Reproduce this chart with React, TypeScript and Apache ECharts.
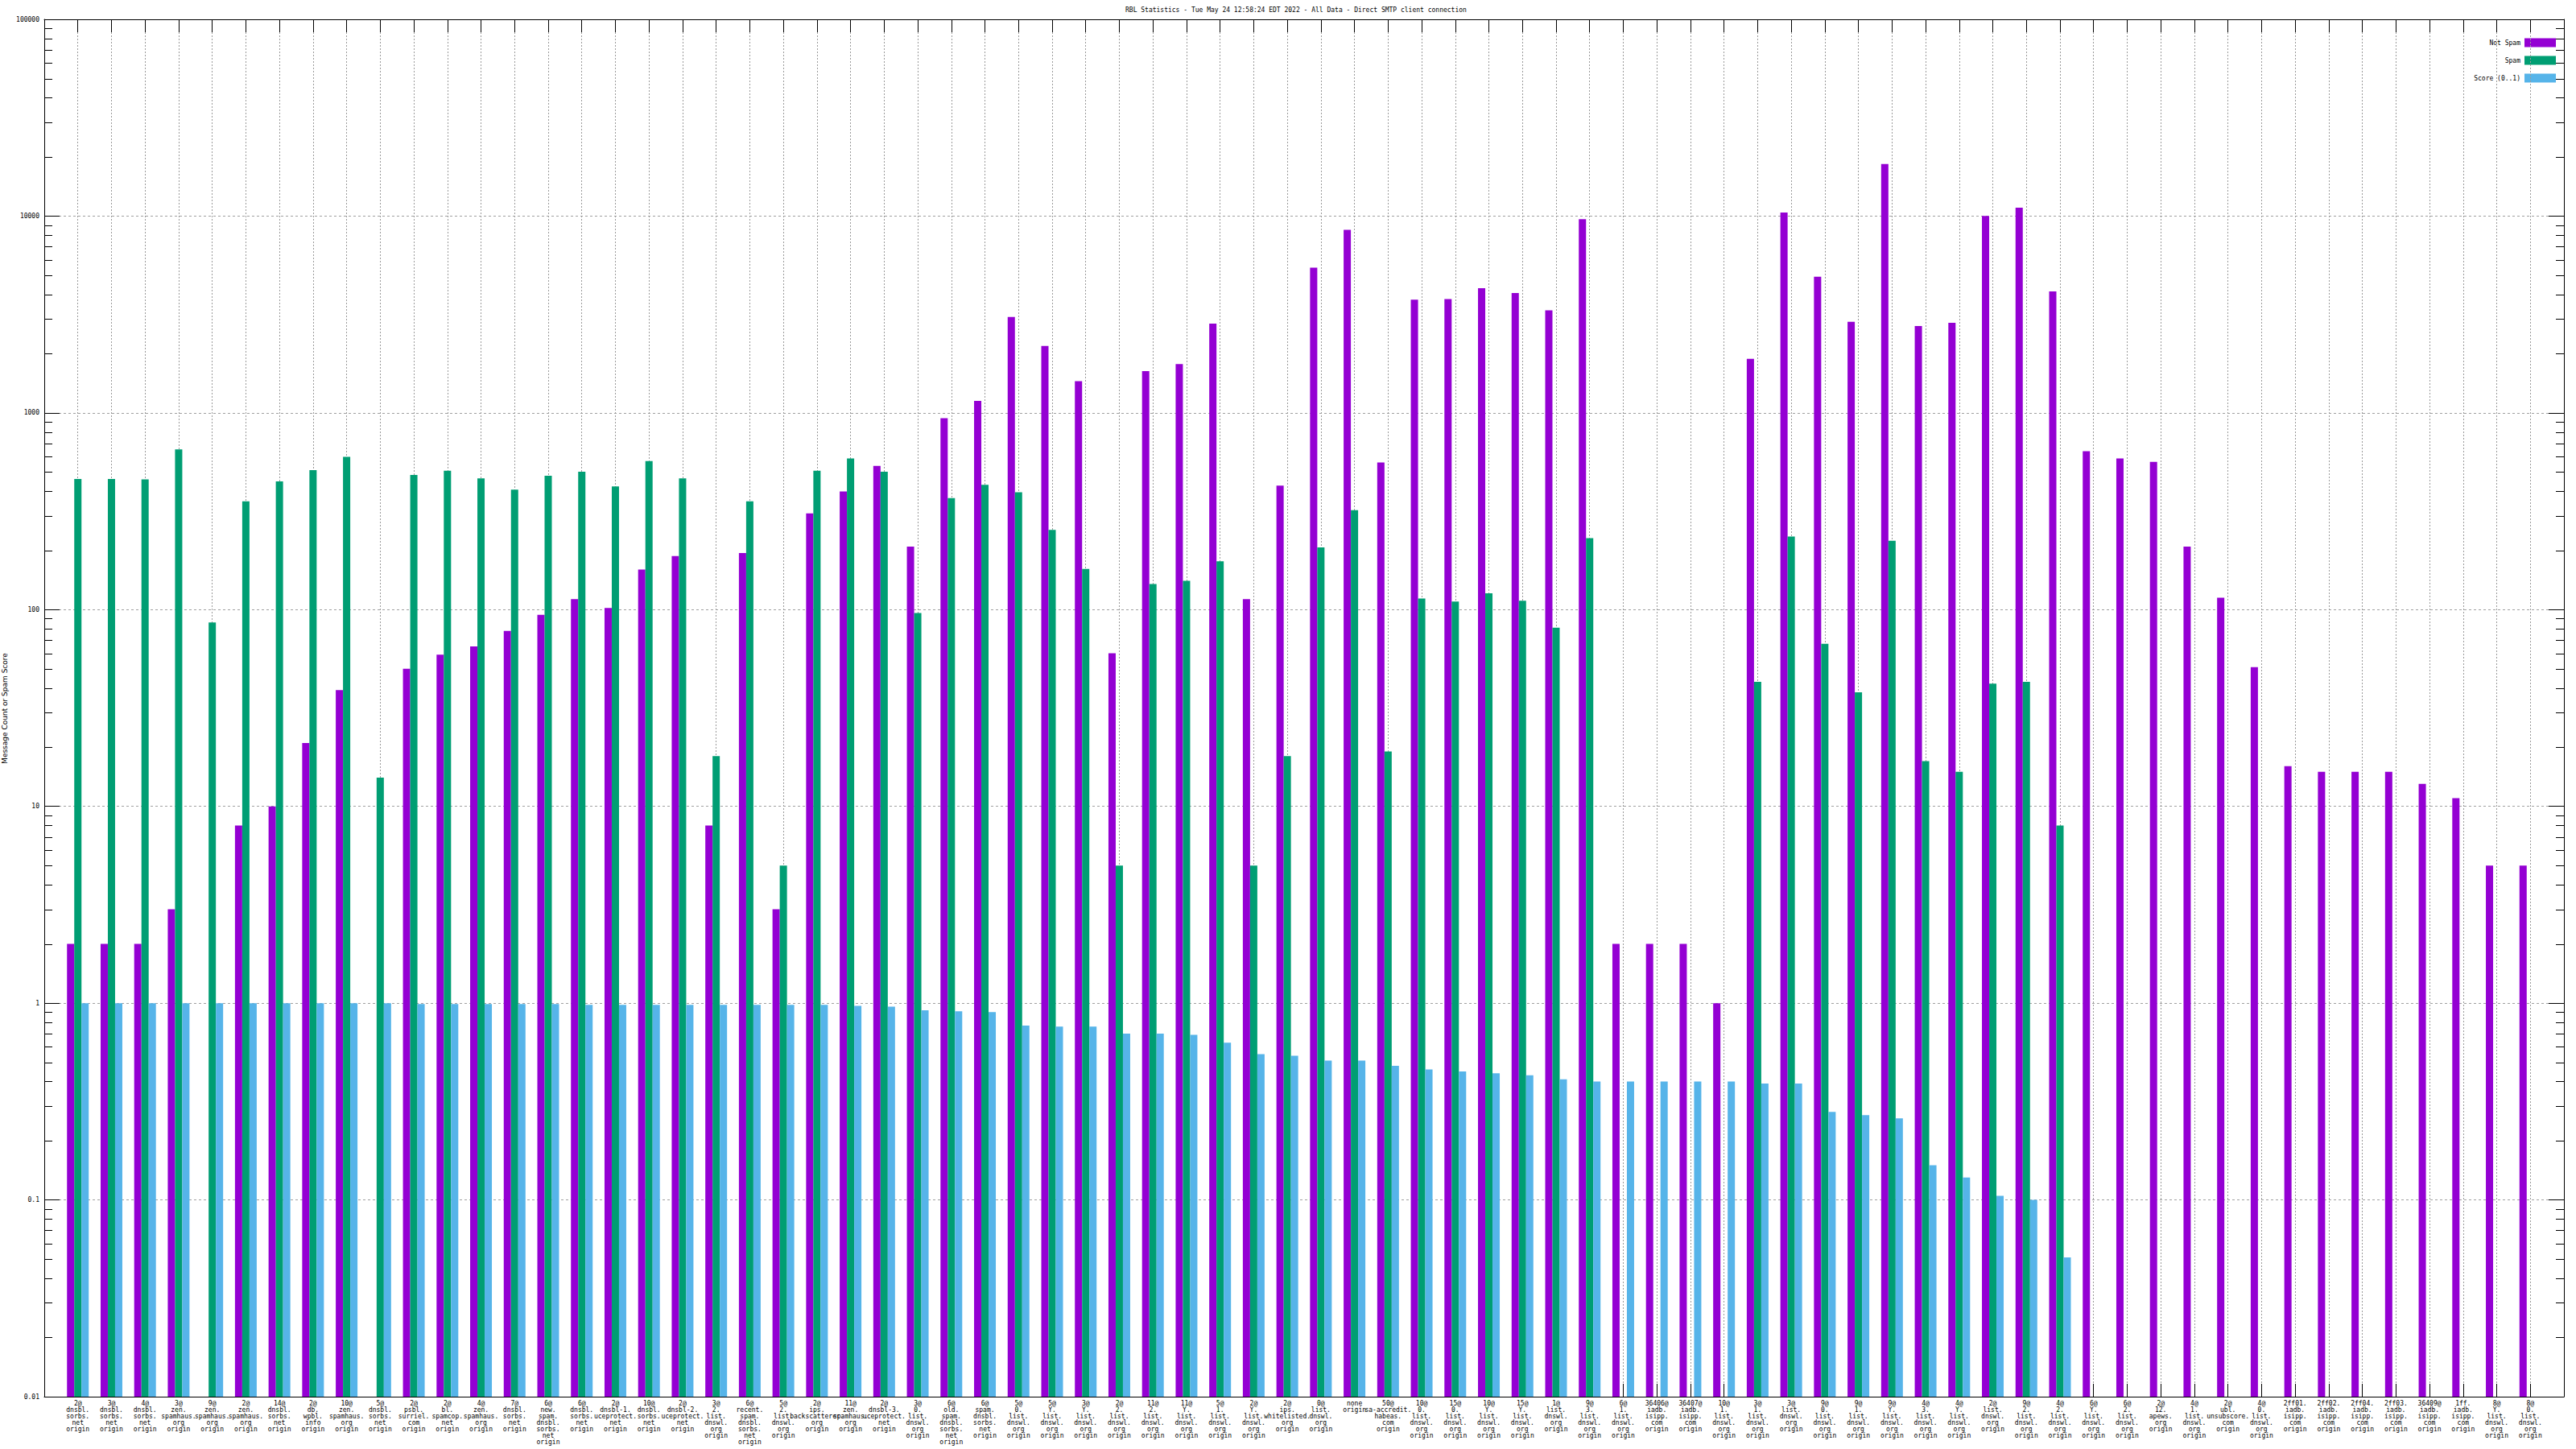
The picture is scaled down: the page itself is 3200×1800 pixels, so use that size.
import React, { useEffect, useRef } from 'react';
import * as echarts from 'echarts';

const MONO = '"DejaVu Sans Mono", "Liberation Mono", monospace';

const TITLE = 'RBL Statistics - Tue May 24 12:58:24 EDT 2022 - All Data - Direct SMTP client connection';
const Y_NAME = 'Message Count or Spam Score';
const SERIES_NAMES = ['Not Spam', 'Spam', 'Score (0..1)'];
const COLORS = ['#9400d3', '#009e73', '#56b4e9'];

const categories = [
  '2@\ndnsbl.\nsorbs.\nnet\norigin',
  '3@\ndnsbl.\nsorbs.\nnet\norigin',
  '4@\ndnsbl.\nsorbs.\nnet\norigin',
  '3@\nzen.\nspamhaus.\norg\norigin',
  '9@\nzen.\nspamhaus.\norg\norigin',
  '2@\nzen.\nspamhaus.\norg\norigin',
  '14@\ndnsbl.\nsorbs.\nnet\norigin',
  '2@\ndb.\nwpbl.\ninfo\norigin',
  '10@\nzen.\nspamhaus.\norg\norigin',
  '5@\ndnsbl.\nsorbs.\nnet\norigin',
  '2@\npsbl.\nsurriel.\ncom\norigin',
  '2@\nbl.\nspamcop.\nnet\norigin',
  '4@\nzen.\nspamhaus.\norg\norigin',
  '7@\ndnsbl.\nsorbs.\nnet\norigin',
  '6@\nnew.\nspam.\ndnsbl.\nsorbs.\nnet\norigin',
  '6@\ndnsbl.\nsorbs.\nnet\norigin',
  '2@\ndnsbl-1.\nuceprotect.\nnet\norigin',
  '10@\ndnsbl.\nsorbs.\nnet\norigin',
  '2@\ndnsbl-2.\nuceprotect.\nnet\norigin',
  '3@\n2.\nlist.\ndnswl.\norg\norigin',
  '6@\nrecent.\nspam.\ndnsbl.\nsorbs.\nnet\norigin',
  '5@\n2.\nlist.\ndnswl.\norg\norigin',
  '2@\nips.\nbackscatterer.\norg\norigin',
  '11@\nzen.\nspamhaus.\norg\norigin',
  '2@\ndnsbl-3.\nuceprotect.\nnet\norigin',
  '3@\n0.\nlist.\ndnswl.\norg\norigin',
  '6@\nold.\nspam.\ndnsbl.\nsorbs.\nnet\norigin',
  '6@\nspam.\ndnsbl.\nsorbs.\nnet\norigin',
  '5@\n0.\nlist.\ndnswl.\norg\norigin',
  '5@\nY.\nlist.\ndnswl.\norg\norigin',
  '3@\nY.\nlist.\ndnswl.\norg\norigin',
  '2@\n2.\nlist.\ndnswl.\norg\norigin',
  '11@\n2.\nlist.\ndnswl.\norg\norigin',
  '11@\nY.\nlist.\ndnswl.\norg\norigin',
  '5@\n1.\nlist.\ndnswl.\norg\norigin',
  '2@\nY.\nlist.\ndnswl.\norg\norigin',
  '2@\nips.\nwhitelisted.\norg\norigin',
  '0@\nlist.\ndnswl.\norg\norigin',
  'none\norigin',
  '50@\nsa-accredit.\nhabeas.\ncom\norigin',
  '10@\n0.\nlist.\ndnswl.\norg\norigin',
  '15@\n0.\nlist.\ndnswl.\norg\norigin',
  '10@\nY.\nlist.\ndnswl.\norg\norigin',
  '15@\nY.\nlist.\ndnswl.\norg\norigin',
  '1@\nlist.\ndnswl.\norg\norigin',
  '9@\n3.\nlist.\ndnswl.\norg\norigin',
  '6@\n1.\nlist.\ndnswl.\norg\norigin',
  '36406@\niadb.\nisipp.\ncom\norigin',
  '36407@\niadb.\nisipp.\ncom\norigin',
  '10@\n1.\nlist.\ndnswl.\norg\norigin',
  '3@\n1.\nlist.\ndnswl.\norg\norigin',
  '3@\nlist.\ndnswl.\norg\norigin',
  '9@\n0.\nlist.\ndnswl.\norg\norigin',
  '9@\n1.\nlist.\ndnswl.\norg\norigin',
  '9@\nY.\nlist.\ndnswl.\norg\norigin',
  '4@\n3.\nlist.\ndnswl.\norg\norigin',
  '4@\nY.\nlist.\ndnswl.\norg\norigin',
  '2@\nlist.\ndnswl.\norg\norigin',
  '9@\n2.\nlist.\ndnswl.\norg\norigin',
  '4@\n2.\nlist.\ndnswl.\norg\norigin',
  '6@\nY.\nlist.\ndnswl.\norg\norigin',
  '6@\n2.\nlist.\ndnswl.\norg\norigin',
  '2@\n12.\napews.\norg\norigin',
  '4@\n1.\nlist.\ndnswl.\norg\norigin',
  '2@\nubl.\nunsubscore.\ncom\norigin',
  '4@\n0.\nlist.\ndnswl.\norg\norigin',
  '2ff01.\niadb.\nisipp.\ncom\norigin',
  '2ff02.\niadb.\nisipp.\ncom\norigin',
  '2ff04.\niadb.\nisipp.\ncom\norigin',
  '2ff03.\niadb.\nisipp.\ncom\norigin',
  '36409@\niadb.\nisipp.\ncom\norigin',
  '1ff.\niadb.\nisipp.\ncom\norigin',
  '8@\nY.\nlist.\ndnswl.\norg\norigin',
  '8@\n0.\nlist.\ndnswl.\norg\norigin',
];

const notSpam: (number | null)[] = [
  2, 2, 2, 3, null, 8, 10, 21, 39, null,
  50, 59, 65, 78, 94, 113, 102, 160, 187, 8,
  194, 3, 308, 399, 537, 209, 940, 1150, 3070, 2190,
  1450, 60, 1630, 1770, 2840, 113, 427, 5470, 8510, 559,
  3760, 3790, 4300, 4060, 3320, 9640, 2, 2, 2, 1,
  1880, 10420, 4920, 2900, 18370, 2760, 2870, 10020, 11030, 4140,
  639, 586, 564, 209, 115, 51, 16, 15, 15, 15,
  13, 11, 5, 5,
];

const spam: (number | null)[] = [
  461, 461, 459, 652, 86, 355, 448, 512, 598, 14,
  484, 508, 465, 407, 479, 502, 423, 569, 465, 18,
  355, 5, 508, 586, 502, 96, 369, 431, 395, 254,
  161, 5, 135, 140, 176, 5, 18, 207, 320, 19,
  114, 110, 121, 111, 81, 231, null, null, null, null,
  43, 235, 67, 38, 224, 17, 15, 42, 43, 8,
  null, null, null, null, null, null, null, null, null, null,
  null, null, null, null,
];

const score: (number | null)[] = [
  1, 1, 1, 1, 1, 1, 1, 1, 1, 1,
  0.99, 0.99, 0.99, 0.99, 0.99, 0.98, 0.98, 0.98, 0.98, 0.98,
  0.98, 0.98, 0.98, 0.97, 0.96, 0.92, 0.91, 0.9, 0.77, 0.76,
  0.76, 0.7, 0.7, 0.69, 0.63, 0.55, 0.54, 0.51, 0.51, 0.48,
  0.46, 0.45, 0.44, 0.43, 0.41, 0.4, 0.4, 0.4, 0.4, 0.4,
  0.39, 0.39, 0.28, 0.27, 0.26, 0.15, 0.13, 0.105, 0.1, 0.051,
  null, null, null, null, null, null, null, null, null, null,
  null, null, null, null,
];

const Y_MIN = 0.01;
const Y_MAX = 100000;
const decades = [0.01, 0.1, 1, 10, 100, 1000, 10000];
const minorMultipliers = [2, 3, 4, 5, 6, 7, 8, 9];

const toPairs = (arr: (number | null)[]) =>
  arr.map((v, i) => [i, v]).filter((d) => d[1] !== null && d[1] !== undefined);

export default function App() {
  const ref = useRef<HTMLDivElement>(null);

  useEffect(() => {
    if (!ref.current) return;
    const chart = echarts.init(ref.current, null, { renderer: 'svg' });

    const minorValues: number[] = [];
    decades.forEach((d) => minorMultipliers.forEach((m) => minorValues.push(m * d)));

    const yLabelFmt = (v: number) => String(+Number(v).toPrecision(6));
    const xLabelFmt = (v: number) => {
      const i = Math.round(v);
      return categories[i] !== undefined ? categories[i] : '';
    };

    const blackLine = { color: '#000', width: 1 };

    const barSeries = [notSpam, spam, score].map((arr, k) => ({
      type: 'bar',
      name: SERIES_NAMES[k],
      xAxisIndex: 0,
      yAxisIndex: 0,
      data: toPairs(arr),
      barWidth: 9,
      barGap: '0%',
      silent: true,
      itemStyle: { color: COLORS[k] },
      z: 2,
    }));

    const legendGraphics: any[] = [];
    SERIES_NAMES.forEach((name, k) => {
      const yc = 53 + k * 22;
      legendGraphics.push({
        type: 'rect',
        shape: { x: 3136, y: yc - 5.5, width: 39, height: 11 },
        style: { fill: COLORS[k] },
        silent: true,
      });
      legendGraphics.push({
        type: 'text',
        x: 3131,
        y: yc,
        style: {
          text: name,
          fill: '#000',
          font: '8px ' + MONO,
          align: 'right',
          verticalAlign: 'middle',
        },
        silent: true,
      });
    });

    const option: any = {
      animation: false,
      backgroundColor: '#ffffff',
      textStyle: { fontFamily: MONO },
      title: {
        text: TITLE,
        left: 1398,
        top: 8,
        padding: 0,
        textStyle: {
          fontFamily: MONO,
          fontSize: 8,
          fontWeight: 'normal',
          color: '#000',
          lineHeight: 9,
        },
      },
      grid: { left: 55, right: 15, top: 24, bottom: 65, containLabel: false },
      xAxis: [
        {
          type: 'value',
          min: -1,
          max: 74,
          interval: 1,
          position: 'bottom',
          axisLine: { show: true, onZero: false, lineStyle: blackLine },
          axisTick: { show: true, inside: true, length: 16, lineStyle: blackLine },
          axisLabel: {
            show: true,
            margin: 4,
            fontFamily: MONO,
            fontSize: 8,
            lineHeight: 8,
            color: '#000',
            formatter: xLabelFmt,
            showMinLabel: true,
            showMaxLabel: true,
          },
          splitLine: { show: true, lineStyle: { color: '#9a9a9a', width: 1, type: [2, 2] } },
        },
        {
          type: 'value',
          min: -1,
          max: 74,
          interval: 1,
          position: 'top',
          axisLine: { show: true, onZero: false, lineStyle: blackLine },
          axisTick: { show: true, inside: true, length: 16, lineStyle: blackLine },
          axisLabel: { show: false },
          splitLine: { show: false },
        },
      ],
      yAxis: [
        {
          type: 'log',
          logBase: 10,
          min: Y_MIN,
          max: Y_MAX,
          splitNumber: 7,
          startValue: Y_MIN,
          position: 'left',
          axisLine: { show: true, onZero: false, lineStyle: blackLine },
          axisTick: { show: true, inside: true, length: 19, lineStyle: blackLine },
          axisLabel: {
            show: true,
            margin: 6,
            fontFamily: MONO,
            fontSize: 8,
            color: '#000',
            formatter: yLabelFmt,
          },
          splitLine: { show: true, lineStyle: { color: '#a0a0a0', width: 1, type: [3, 3] } },
        },
        {
          type: 'log',
          logBase: 10,
          min: Y_MIN,
          max: Y_MAX,
          splitNumber: 7,
          position: 'right',
          axisLine: { show: true, onZero: false, lineStyle: blackLine },
          axisTick: { show: true, inside: true, length: 19, lineStyle: blackLine },
          axisLabel: { show: false },
          splitLine: { show: false },
        },
      ],
      series: [
        ...barSeries,
        {
          type: 'custom',
          name: 'minor ticks',
          xAxisIndex: 0,
          yAxisIndex: 0,
          silent: true,
          clip: false,
          z: 3,
          data: minorValues.map((v) => [0, v]),
          renderItem: (params: any, api: any) => {
            const cs = params.coordSys;
            const y = Math.round(api.coord([0, api.value(1)])[1]) + 0.5;
            return {
              type: 'group',
              children: [
                {
                  type: 'line',
                  shape: { x1: cs.x, y1: y, x2: cs.x + 10, y2: y },
                  style: { stroke: '#000', lineWidth: 1 },
                },
                {
                  type: 'line',
                  shape: { x1: cs.x + cs.width - 10, y1: y, x2: cs.x + cs.width, y2: y },
                  style: { stroke: '#000', lineWidth: 1 },
                },
              ],
            };
          },
        },
      ],
      graphic: [
        ...legendGraphics,
        {
          type: 'text',
          x: 6,
          y: 880,
          rotation: Math.PI / 2,
          style: {
            text: Y_NAME,
            fill: '#000',
            font: '9px "DejaVu Sans", sans-serif',
            align: 'center',
            verticalAlign: 'middle',
          },
          silent: true,
        },
      ],
    };

    chart.setOption(option);
    return () => {
      chart.dispose();
    };
  }, []);

  return (
    <div
      ref={ref}
      style={{
        position: 'fixed',
        left: 0,
        top: 0,
        width: 3200,
        height: 1800,
        background: '#ffffff',
      }}
    />
  );
}
